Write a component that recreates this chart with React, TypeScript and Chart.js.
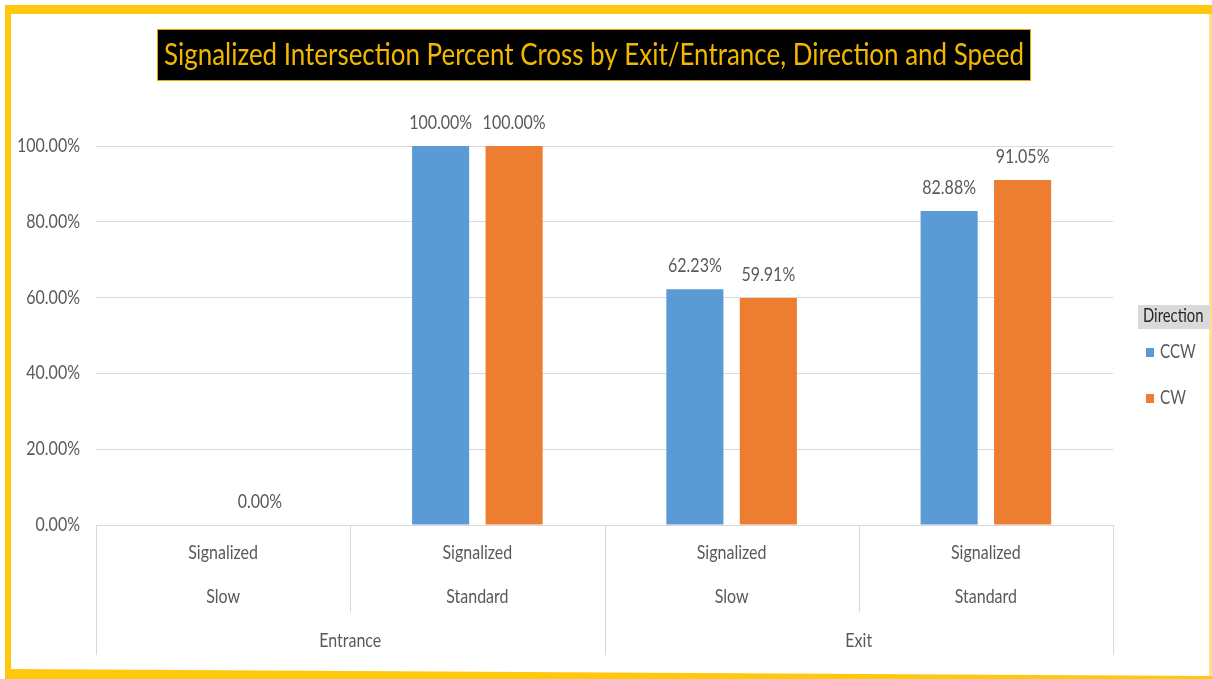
import React, { useEffect, useRef } from "react";
import { Chart, registerables } from "chart.js";

Chart.register(...registerables);

// ---- data ----
const categoryKeys = ["Entrance-Slow", "Entrance-Standard", "Exit-Slow", "Exit-Standard"];
const typeLabels = ["Signalized", "Signalized", "Signalized", "Signalized"];
const speedLabels = ["Slow", "Standard", "Slow", "Standard"];
const groupLabels = ["Entrance", "Exit"]; // each spans two categories
const ccwValues: (number | null)[] = [null, 100, 62.23, 82.88];
const cwValues: (number | null)[] = [0, 100, 59.91, 91.05];
const yTickValues = [0, 20, 40, 60, 80, 100];
const seriesNames = ["CCW", "CW"];
const seriesColors = ["#5B9BD5", "#ED7D31"];
const titleText = "Signalized Intersection Percent Cross by Exit/Entrance, Direction and Speed";
const legendTitle = "Direction";

const FONT = "Lato, 'Open Sans', sans-serif";
const GRAY = "#595959";
const SX = 0.8;

function txt(
  ctx: CanvasRenderingContext2D,
  s: string,
  x: number,
  y: number,
  size: number,
  color: string,
  align: CanvasTextAlign,
  sx: number = SX
) {
  ctx.save();
  ctx.font = `${size}px ${FONT}`;
  ctx.fillStyle = color;
  ctx.textAlign = align;
  ctx.textBaseline = "alphabetic";
  ctx.translate(x, y);
  ctx.scale(sx, 1);
  ctx.fillText(s, 0, 0);
  ctx.restore();
}

const decorPlugin = {
  id: "decor",
  beforeDraw(chart: any) {
    const ctx: CanvasRenderingContext2D = chart.ctx;
    const W = chart.width;
    const H = chart.height;
    ctx.save();
    // background
    ctx.fillStyle = "#ffffff";
    ctx.fillRect(0, 0, W, H);
    // yellow frame
    ctx.fillStyle = "#FFC80F";
    ctx.fillRect(5, 5, W - 5, H - 5);
    ctx.fillStyle = "#FFE08A";
    ctx.fillRect(1209, 14, 3, 662);
    ctx.fillStyle = "#ffffff";
    ctx.beginPath();
    ctx.moveTo(11, 14);
    ctx.lineTo(1209, 14);
    ctx.lineTo(1209, 676);
    ctx.lineTo(11, 669);
    ctx.closePath();
    ctx.fill();

    // title box
    ctx.fillStyle = "#000000";
    ctx.fillRect(157, 29, 874, 52);
    ctx.strokeStyle = "#E6A800";
    ctx.lineWidth = 1;
    ctx.strokeRect(157.5, 29.5, 873, 51);
    ctx.font = `30px ${FONT}`;
    const tw = ctx.measureText(titleText).width;
    txt(ctx, titleText, 594, 65, 30, "#F2B800", "center", 860 / tw);

    // legend
    ctx.fillStyle = "#DADADA";
    ctx.fillRect(1138, 305, 72, 24);
    txt(ctx, legendTitle, 1143, 322, 19, "#262626", "left", 0.78);
    const legY = [352, 398];
    seriesNames.forEach((n, i) => {
      ctx.fillStyle = seriesColors[i];
      ctx.fillRect(1146, legY[i] - 4, 8, 9);
      txt(ctx, n, 1160, legY[i] + 6, 19, GRAY, "left", 0.8);
    });

    // y tick labels
    const ys = chart.scales.y;
    yTickValues.forEach((v) => {
      const y = ys.getPixelForValue(v);
      txt(ctx, v.toFixed(2) + "%", 80, y + 6, 20, GRAY, "right");
    });

    // x axis multi-level labels
    const xs = chart.scales.x;
    const area = chart.chartArea;
    const px = categoryKeys.map((_, i) => xs.getPixelForValue(i));
    px.forEach((x, i) => {
      txt(ctx, typeLabels[i], x, 559, 20, GRAY, "center");
      txt(ctx, speedLabels[i], x, 603, 20, GRAY, "center");
    });
    groupLabels.forEach((g, gi) => {
      const x = (px[gi * 2] + px[gi * 2 + 1]) / 2;
      txt(ctx, g, x, 647, 20, GRAY, "center");
    });
    // separators
    ctx.strokeStyle = "#D9D9D9";
    ctx.lineWidth = 1;
    const vline = (x: number, y2: number) => {
      const xx = Math.round(x) + 0.5;
      ctx.beginPath();
      ctx.moveTo(xx, area.bottom);
      ctx.lineTo(xx, y2);
      ctx.stroke();
    };
    vline(area.left, 655);
    vline(area.right, 655);
    for (let i = 0; i < px.length - 1; i++) {
      const b = (px[i] + px[i + 1]) / 2;
      vline(b, i % 2 === 1 ? 655 : 612);
    }
    ctx.restore();
  },
  afterDatasetsDraw(chart: any) {
    const ctx: CanvasRenderingContext2D = chart.ctx;
    chart.data.datasets.forEach((ds: any, d: number) => {
      const meta = chart.getDatasetMeta(d);
      meta.data.forEach((el: any, i: number) => {
        const v = ds.data[i];
        if (v === null || v === undefined) return;
        txt(ctx, v.toFixed(2) + "%", el.x, el.y - 17, 20, GRAY, "center");
      });
    });
  },
};

export default function App() {
  const canvasRef = useRef<HTMLCanvasElement | null>(null);

  useEffect(() => {
    if (!canvasRef.current) return;
    const chart = new Chart(canvasRef.current, {
      type: "bar",
      data: {
        labels: categoryKeys,
        datasets: [
          {
            label: seriesNames[0],
            data: ccwValues,
            backgroundColor: seriesColors[0],
            categoryPercentage: 0.578,
            barPercentage: 0.777,
          },
          {
            label: seriesNames[1],
            data: cwValues,
            backgroundColor: seriesColors[1],
            categoryPercentage: 0.578,
            barPercentage: 0.777,
          },
        ],
      },
      options: {
        responsive: false,
        animation: false,
        devicePixelRatio: 1,
        layout: { padding: { left: 0, right: 99, top: 146, bottom: 154 } },
        plugins: {
          legend: { display: false },
          tooltip: { enabled: false },
          title: { display: false },
        },
        scales: {
          x: {
            display: false,
          },
          y: {
            min: 0,
            max: 100,
            ticks: { display: false, stepSize: 20 },
            grid: { color: "#D9D9D9", drawTicks: false },
            border: { display: false },
            afterFit: (s: any) => {
              s.width = 96;
            },
          },
        },
      },
      plugins: [decorPlugin],
    } as any);
    if ((document as any).fonts && (document as any).fonts.ready) {
      (document as any).fonts.ready.then(() => {
        try {
          chart.draw();
        } catch (e) {}
      });
    }
    return () => chart.destroy();
  }, []);

  return (
    <div
      style={{
        position: "fixed",
        left: 0,
        top: 0,
        width: 1212,
        height: 679,
        background: "#fff",
      }}
    >
      <canvas ref={canvasRef} width={1212} height={679} style={{ display: "block" }} />
    </div>
  );
}
